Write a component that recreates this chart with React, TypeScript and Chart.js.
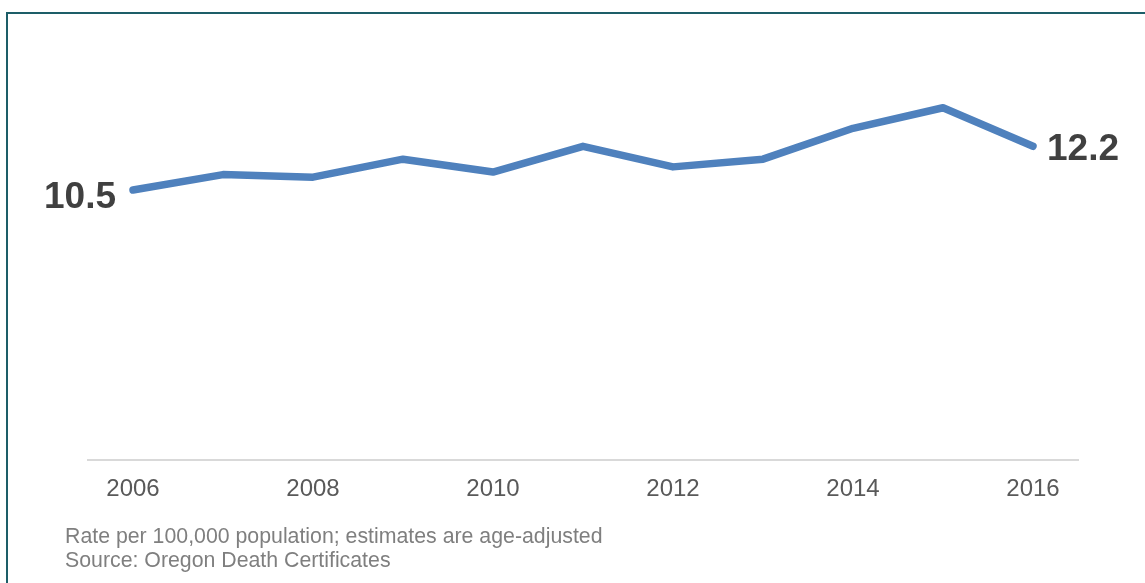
import React, { useEffect, useRef } from "react";
import { Chart, registerables } from "chart.js";

Chart.register(...registerables);

const years: string[] = ["2006", "2007", "2008", "2009", "2010", "2011", "2012", "2013", "2014", "2015", "2016"];
const rates: number[] = [10.5, 11.1, 11.0, 11.7, 11.2, 12.2, 11.4, 11.7, 12.9, 13.7, 12.2];
const shownTicks: string[] = ["2006", "2008", "2010", "2012", "2014", "2016"];
const footnotes: string[] = [
  "Rate per 100,000 population; estimates are age-adjusted",
  "Source: Oregon Death Certificates",
];

const FONT = "'Liberation Sans', Arial, Helvetica, sans-serif";

const endLabels = {
  id: "endLabels",
  afterDatasetsDraw(chart: any) {
    const meta = chart.getDatasetMeta(0);
    const pts = meta.data;
    if (!pts.length) return;
    const ctx = chart.ctx;
    const ds = chart.data.datasets[0].data as number[];
    ctx.save();
    ctx.font = `bold 37px ${FONT}`;
    ctx.fillStyle = "#404040";
    ctx.textBaseline = "middle";
    const first = pts[0];
    ctx.textAlign = "right";
    ctx.fillText(ds[0].toFixed(1), first.x - 17, first.y + 8);
    const last = pts[pts.length - 1];
    ctx.textAlign = "left";
    ctx.fillText(ds[ds.length - 1].toFixed(1), last.x + 14, last.y + 3);
    ctx.restore();
  },
};

export default function App() {
  const ref = useRef<HTMLCanvasElement | null>(null);

  useEffect(() => {
    if (!ref.current) return;
    const chart = new Chart(ref.current, {
      type: "line",
      data: {
        labels: years,
        datasets: [
          {
            data: rates,
            borderColor: "#4F81BD",
            backgroundColor: "#4F81BD",
            borderWidth: 7.5,
            borderCapStyle: "round",
            borderJoinStyle: "round",
            pointRadius: 0,
            pointHoverRadius: 0,
            tension: 0,
            fill: false,
            clip: false as any,
          },
        ],
      },
      options: {
        responsive: false,
        animation: false,
        events: [],
        layout: { padding: { left: 88, right: 67, top: 48.6, bottom: 0 } },
        plugins: { legend: { display: false }, tooltip: { enabled: false } },
        scales: {
          x: {
            type: "category",
            offset: true,
            grid: { display: false, drawTicks: false },
            border: { display: true, color: "#D9D9D9", width: 2 },
            ticks: {
              autoSkip: false,
              maxRotation: 0,
              padding: 15,
              color: "#595959",
              font: { family: FONT, size: 24 },
              callback: (_v: any, i: number) => (shownTicks.includes(years[i]) ? years[i] : ""),
            },
            afterFit: (scale: any) => {
              scale.height = 123;
            },
          },
          y: { display: false, min: 0, max: 16 },
        },
      },
      plugins: [endLabels],
    });
    return () => chart.destroy();
  }, []);

  return (
    <div
      style={{
        position: "fixed",
        left: 0,
        top: 0,
        width: 1145,
        height: 583,
        background: "#ffffff",
        overflow: "hidden",
      }}
    >
      <div
        style={{
          position: "absolute",
          left: 6,
          top: 12,
          right: 0,
          bottom: -5,
          borderTop: "2px solid #1D5E68",
          borderLeft: "2px solid #1D5E68",
        }}
      />
      <canvas ref={ref} width={1145} height={583} style={{ position: "absolute", left: 0, top: 0 }} />
      <div
        style={{
          position: "absolute",
          left: 65,
          top: 524,
          fontFamily: FONT,
          fontSize: 21.3,
          lineHeight: "24px",
          color: "#7F7F7F",
          whiteSpace: "nowrap",
        }}
      >
        {footnotes.map((t) => (
          <div key={t}>{t}</div>
        ))}
      </div>
    </div>
  );
}
